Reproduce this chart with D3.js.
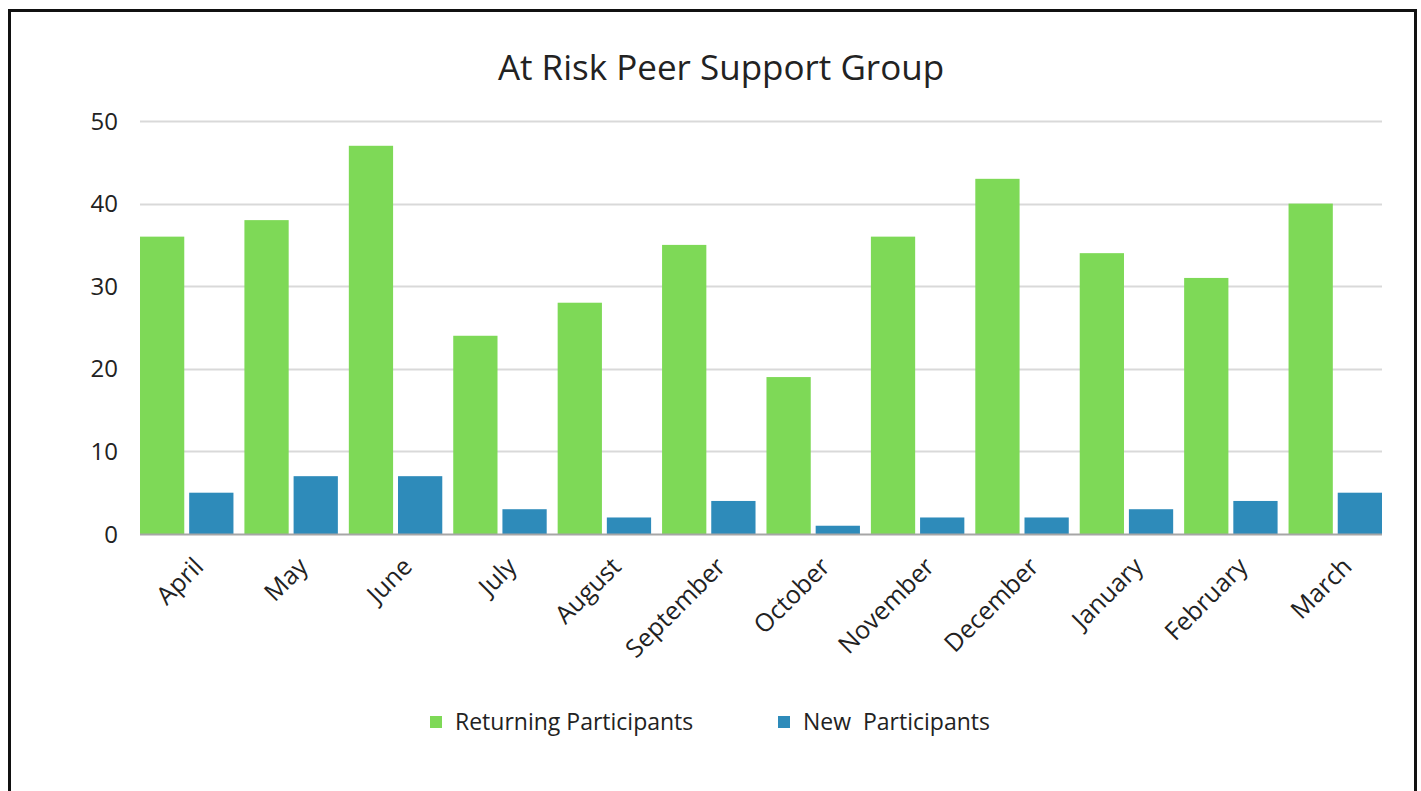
<!DOCTYPE html>
<html>
<head>
<meta charset="utf-8">
<script src="https://cdn.jsdelivr.net/npm/d3@7"></script>
<style>
  body { margin: 0; background: #fff; }
  text { font-family: "Open Sans", sans-serif; fill: #222; }
</style>
</head>
<body>
<script>
//data
var months = ["April", "May", "June", "July", "August", "September", "October",
    "November", "December", "January", "February", "March"];
var seriesNames = ["Returning Participants", "New  Participants"];
var returning = [36, 38, 47, 24, 28, 35, 19, 36, 43, 34, 31, 40];
var newcomers = [5, 7, 7, 3, 2, 4, 1, 2, 2, 3, 4, 5];
var yTicks = [0, 10, 20, 30, 40, 50];
var colors = ["#7ED957", "#2E8BBA"];

var rows = months.map(function (m, i) {
    return { month: m, values: [returning[i], newcomers[i]] };
});

var W = 1421, H = 791;
var m = [121, 39, 257, 140], //top right bottom left
    w = W - m[1] - m[3],
    h = H - m[0] - m[2];

var svg = d3.select("body").append("svg")
    .attr("width", W)
    .attr("height", H);

// frame
svg.append("rect")
    .attr("x", 9.5).attr("y", 10.5)
    .attr("width", 1406).attr("height", 800)
    .attr("fill", "none")
    .attr("stroke", "#111")
    .attr("stroke-width", 3);

svg.append("text")
    .attr("x", 721).attr("y", 80)
    .attr("text-anchor", "middle")
    .style("font-size", "35px")
    .text("At Risk Peer Support Group");

//scales
var x0 = d3.scaleBand()
    .domain(months)
    .range([0, w])
    .paddingInner(0.105)
    .paddingOuter(0);
var x1 = d3.scaleBand()
    .domain([0, 1])
    .range([0, x0.bandwidth()])
    .paddingInner(0.1);
var y = d3.scaleLinear()
    .domain([0, 50])
    .range([h, 0]);

var g = svg.append("g")
    .attr("transform", "translate(" + m[3] + "," + m[0] + ")");

//grid
g.append("g").selectAll("line")
    .data(yTicks.slice(1))
    .enter().append("line")
    .attr("x1", 0).attr("x2", w)
    .attr("y1", function (d) { return Math.round(y(d)) + 0.5; })
    .attr("y2", function (d) { return Math.round(y(d)) + 0.5; })
    .attr("stroke", "#d9d9d9")
    .attr("stroke-width", 2);

g.append("g").selectAll("text")
    .data(yTicks)
    .enter().append("text")
    .attr("x", -22)
    .attr("y", function (d) { return y(d); })
    .attr("dy", "0.36em")
    .attr("text-anchor", "end")
    .style("font-size", "24px")
    .text(function (d) { return d; });

//bars
var groups = g.append("g").selectAll("g")
    .data(rows)
    .enter().append("g")
    .attr("transform", function (d) { return "translate(" + x0(d.month) + ",0)"; });

groups.selectAll("rect")
    .data(function (d) { return d.values; })
    .enter().append("rect")
    .attr("x", function (d, i) { return x1(i); })
    .attr("y", function (d) { return y(d); })
    .attr("width", x1.bandwidth())
    .attr("height", function (d) { return h - y(d); })
    .attr("fill", function (d, i) { return colors[i]; });

//baseline
g.append("line")
    .attr("x1", 0).attr("x2", w)
    .attr("y1", h + 0.5).attr("y2", h + 0.5)
    .attr("stroke", "#a6a6a6")
    .attr("stroke-width", 2);

//month labels
g.append("g").selectAll("text")
    .data(months)
    .enter().append("text")
    .attr("transform", function (d) {
        return "translate(" + (x0(d) + x0.bandwidth() / 2 + 12) + "," + (h + 28) + ") rotate(-45)";
    })
    .attr("text-anchor", "end")
    .attr("dy", "0.35em")
    .style("font-size", "25px")
    .text(function (d) { return d; });

//legend
var legendX = [430, 778];
var legend = svg.append("g").selectAll("g")
    .data(seriesNames)
    .enter().append("g")
    .attr("transform", function (d, i) { return "translate(" + legendX[i] + ",716)"; });

legend.append("rect")
    .attr("width", 12).attr("height", 12)
    .attr("fill", function (d, i) { return colors[i]; });

legend.append("text")
    .attr("x", 25).attr("y", 6)
    .attr("dy", "0.35em")
    .style("font-size", "23px")
    .style("white-space", "pre")
    .text(function (d) { return d; });
</script>
</body>
</html>
